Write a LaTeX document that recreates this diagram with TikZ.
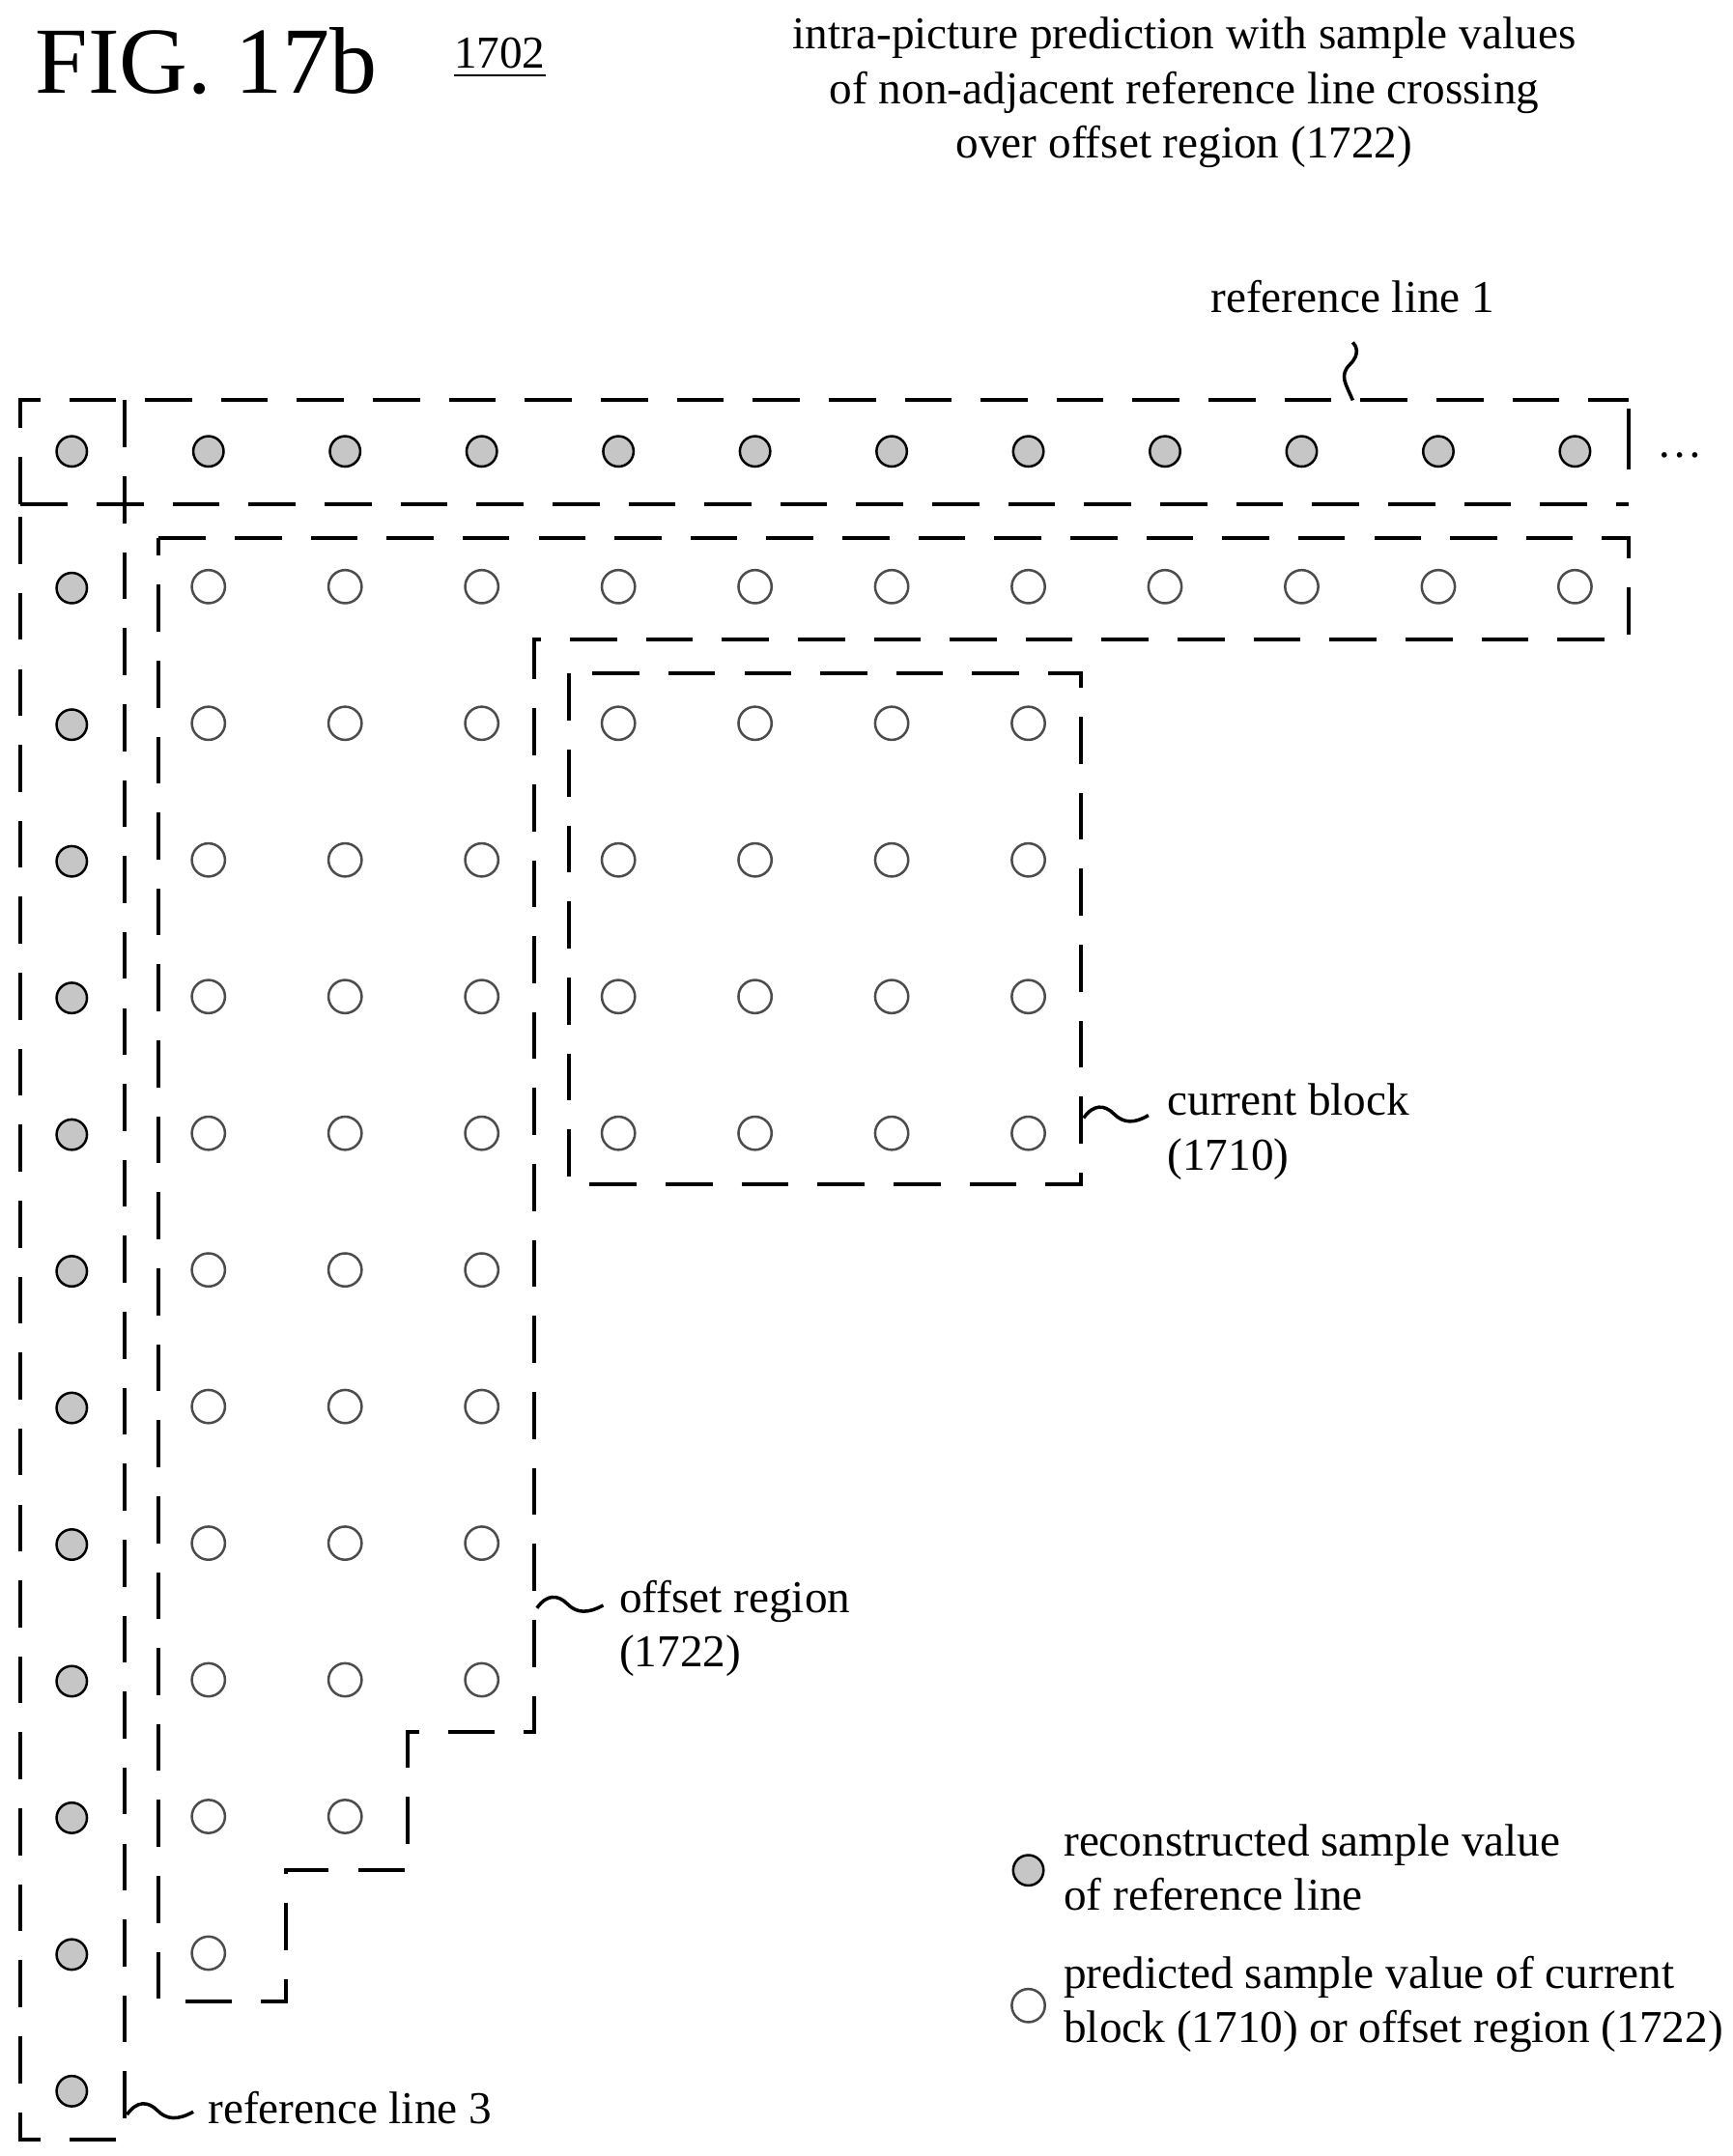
\documentclass[tikz,border=0pt]{standalone}
\usepackage{fontspec}
\setmainfont{Liberation Serif}
\usetikzlibrary{positioning}
\tikzset{
    border/.style={line width=0.8pt, dash pattern=on 3.4mm off 2.1mm},
    refdot/.style={circle, draw=black, fill=gray!45, minimum size=0.22cm, inner sep=0pt, line width=0.5pt},
    preddot/.style={circle, draw=black!70, fill=white, minimum size=0.24cm, inner sep=0pt, line width=0.5pt},
    lbl/.style={font=\fontsize{9.4}{11.2}\selectfont, align=left, anchor=west, inner sep=0pt},
    squig/.style={line width=0.7pt},
}
\begin{document}
\begin{tikzpicture}[x=0.01cm,y=-0.01cm]
    \useasboundingbox (0,0) rectangle (1255,1562);

    % title and header
    \node[anchor=west,inner sep=0pt,font=\fontsize{19.5}{22}\selectfont] (fig) at (25,44) {FIG. 17b};
    \node[inner sep=0pt,font=\fontsize{9.4}{11}\selectfont] (num) at (362,42) {\underline{1702}};
    \node[inner sep=0pt,align=center,font=\fontsize{9.4}{11.2}\selectfont] (head) at (858,67)
        {intra-picture prediction with sample values\\of non-adjacent reference line crossing\\over offset region (1722)};

    % reference line 1 and reference line 3
    \draw[border] (15,365) -- (15,290) -- (1180,290);
    \draw[border] (15,365) -- (1180,365);
    \draw[line width=0.8pt] (1180,296) -- (1180,340);
    \node[inner sep=0pt,font=\fontsize{9.4}{11}\selectfont] (dots) at (1217,330) {\dots};
    \draw[border] (90,290) -- (90,1550) -- (15,1550) -- (15,365);

    % offset region
    \draw[border] (115,390) -- (1180,390) -- (1180,463) -- (387,463) -- (387,1255)
        -- (295,1255) -- (295,1355) -- (207,1355) -- (207,1450) -- (115,1450) -- cycle;

    % current block
    \draw[border] (412,488) rectangle (783,858);

    % reference samples
    \foreach \i in {0,...,11}
        \node[refdot] at (52+99*\i,327) {};
    \foreach \j in {1,...,12}
        \node[refdot] at (52,327+99*\j) {};

    % predicted samples
    \foreach \i in {0,...,10}
        \node[preddot] at (151+99*\i,425) {};
    \foreach \j in {1,...,8}
        \foreach \i in {0,1,2}
            \node[preddot] at (151+99*\i,425+99*\j) {};
    \foreach \i in {0,1}
        \node[preddot] at (151+99*\i,1316) {};
    \node[preddot] at (151,1415) {};
    \foreach \j in {1,...,4}
        \foreach \i in {0,...,3}
            \node[preddot] at (448+99*\i,425+99*\j) {};

    % labels
    \node[inner sep=0pt,font=\fontsize{9.4}{11}\selectfont] (rl1) at (980,215) {reference line 1};
    \draw[squig] (980,290) .. controls (975,278) and (970,272) .. (978,264) .. controls (986,256) and (982,250) .. (980,248);
    \node[lbl] (cb) at (845,820) {current block\\(1710)};
    \draw[squig] (785,810) .. controls (792,800) and (800,800) .. (807,807) .. controls (814,814) and (822,814) .. (832,808);
    \node[lbl] (off) at (448,1180) {offset region\\(1722)};
    \draw[squig] (389,1165) .. controls (396,1155) and (404,1155) .. (411,1162) .. controls (418,1169) and (426,1169) .. (437,1163);
    \node[lbl] (rl3) at (150,1527) {reference line 3};
    \draw[squig] (92,1532) .. controls (99,1522) and (107,1522) .. (114,1529) .. controls (121,1536) and (129,1536) .. (140,1530);

    % legend
    \node[refdot] (lg1) at (745,1355) {};
    \node[lbl] (lt1) at (770,1353) {reconstructed sample value\\of reference line};
    \node[preddot] (lg2) at (745,1453) {};
    \node[lbl] (lt2) at (770,1452) {predicted sample value of current\\block (1710) or offset region (1722)};
\end{tikzpicture}
\end{document}
